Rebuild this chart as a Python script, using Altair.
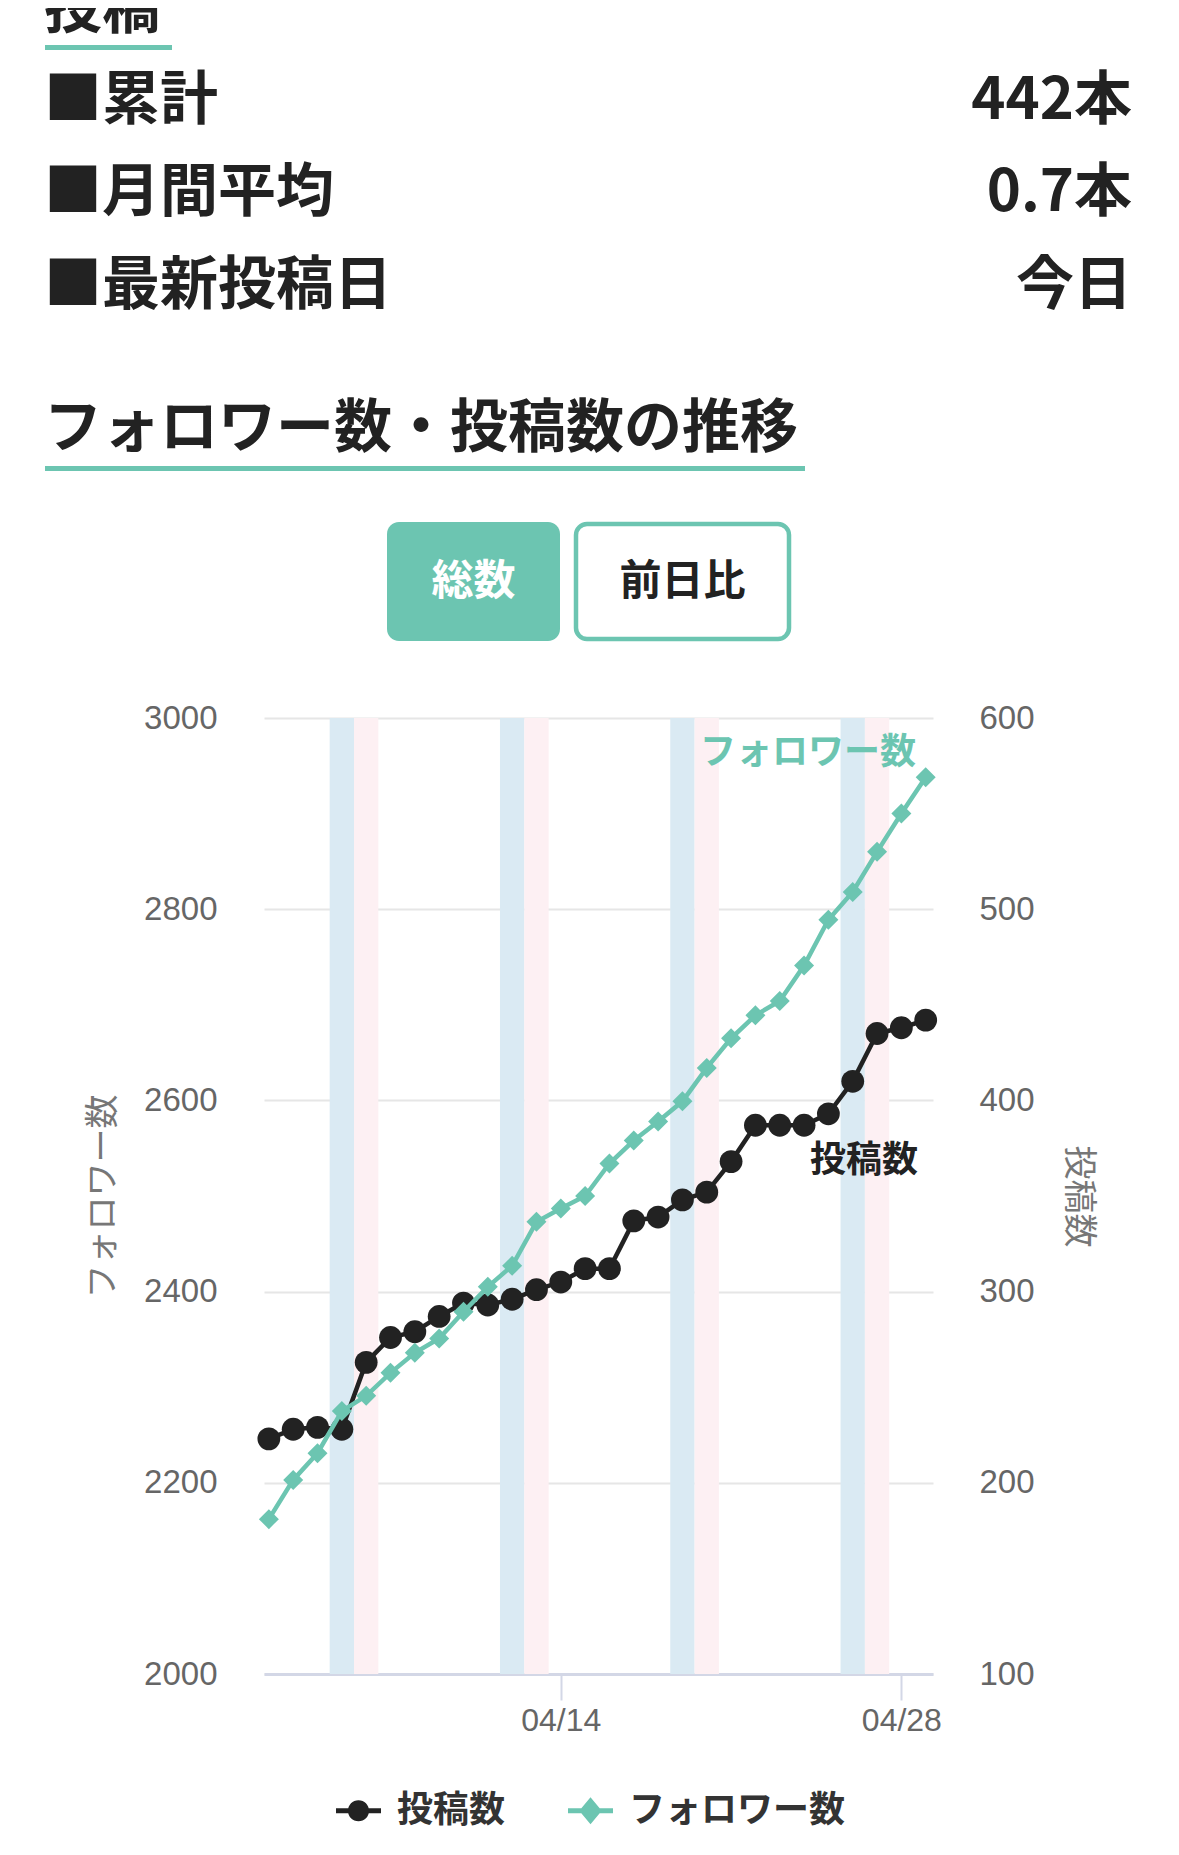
import altair as alt
import pandas as pd

# ---------------- data ----------------
dates = ["2025-04-02", "2025-04-03", "2025-04-04", "2025-04-05", "2025-04-06", "2025-04-07", "2025-04-08",
         "2025-04-09", "2025-04-10", "2025-04-11", "2025-04-12", "2025-04-13", "2025-04-14", "2025-04-15",
         "2025-04-16", "2025-04-17", "2025-04-18", "2025-04-19", "2025-04-20", "2025-04-21", "2025-04-22",
         "2025-04-23", "2025-04-24", "2025-04-25", "2025-04-26", "2025-04-27", "2025-04-28", "2025-04-29"]
posts = [223, 228, 229, 228, 263, 276, 279, 287, 294, 293, 296, 301, 305, 312, 312, 337, 339, 348, 352, 368,
         387, 387, 387, 393, 410, 435, 438, 442]
followers = [2162, 2203, 2231, 2275, 2291, 2315, 2336, 2351, 2379, 2405, 2427, 2473, 2487, 2500, 2534, 2558,
             2578, 2599, 2634, 2665, 2689, 2704, 2741, 2789, 2818, 2860, 2900, 2938]
saturdays = ["2025-04-05", "2025-04-12", "2025-04-19", "2025-04-26"]
sundays = ["2025-04-06", "2025-04-13", "2025-04-20", "2025-04-27"]
series_names = ["投稿数", "フォロワー数"]
follower_ticks = [2000, 2200, 2400, 2600, 2800, 3000]
post_ticks = [100, 200, 300, 400, 500, 600]
x_tick_dates = [(2025, 4, 14), (2025, 4, 28)]

header_title = "投稿"
row_labels = ["■累計", "■月間平均", "■最新投稿日"]
row_values = ["442本", "0.7本", "今日"]
section_title = "フォロワー数・投稿数の推移"
buttons = ["総数", "前日比"]

# ---------------- style / layout ----------------
TEAL = "#6cc5b1"
DARK = "#222222"
CJK = "Noto Sans CJK JP"
W, H = 669, 956
PAD_L, PAD_T = 256, 710
OX, OY = 8 + PAD_L, 8 + PAD_T   # plot origin in page pixels

df = pd.DataFrame({"date": dates, "posts": posts, "followers": followers})


def band_frame(days):
    d = pd.to_datetime(pd.Series(days))
    return pd.DataFrame({
        "start": (d - pd.Timedelta(hours=12)).dt.strftime("%Y-%m-%dT%H:%M:%SZ"),
        "end": (d + pd.Timedelta(hours=12)).dt.strftime("%Y-%m-%dT%H:%M:%SZ"),
    })


xscale = alt.Scale(
    type="utc",
    domain=[alt.DateTime(year=2025, month=4, date=1, hours=19, minutes=12, utc=True),
            alt.DateTime(year=2025, month=4, date=29, hours=7, minutes=12, utc=True)],
)
xaxis = alt.Axis(
    values=[alt.DateTime(year=y, month=m, date=d, utc=True) for (y, m, d) in x_tick_dates],
    format="%m/%d", title=None, grid=False,
    labelFont="Liberation Sans", labelFontSize=32, labelColor="#666666", labelPadding=5,
    domainColor="#d3d7e6", domainWidth=3, tickColor="#d3d7e6", tickSize=26, tickWidth=2,
)

sat = alt.Chart(band_frame(saturdays)).mark_rect(color="#daeaf3").encode(
    x=alt.X("start:T", scale=xscale, axis=xaxis), x2="end:T")
sun = alt.Chart(band_frame(sundays)).mark_rect(color="#fdf0f3").encode(
    x=alt.X("start:T", scale=xscale, axis=xaxis), x2="end:T")

post_axis = alt.Axis(
    orient="right", values=post_ticks, format="d", grid=False, domain=False, ticks=False,
    labelFont="Liberation Sans", labelFontSize=33, labelColor="#666666", labelPadding=46,
    title="投稿数", titleFont=CJK, titleFontSize=34, titleFontWeight="normal", titleColor="#777777",
    titleAngle=90, titleX=144, titleY=H / 2, titleAlign="center", titleBaseline="middle",
)
follower_axis = alt.Axis(
    orient="left", values=follower_ticks, format="d", grid=True, gridColor="#e6e6e6", gridWidth=2,
    domain=False, ticks=False,
    labelFont="Liberation Sans", labelFontSize=33, labelColor="#666666", labelPadding=47,
    title="フォロワー数", titleFont=CJK, titleFontSize=34, titleFontWeight="normal", titleColor="#777777",
    titleAngle=270, titleX=-161, titleY=H / 2, titleAlign="center", titleBaseline="middle",
)

base = alt.Chart(df)
px = alt.X("date:T", scale=xscale, axis=xaxis)

py = alt.Y("posts:Q", scale=alt.Scale(domain=[100, 600], zero=False, nice=False), axis=post_axis)
posts_layer = alt.layer(
    base.mark_line(color=DARK, strokeWidth=4.5).encode(x=px, y=py),
    base.mark_point(filled=True, shape="circle", size=520, color=DARK, opacity=1).encode(x=px, y=py),
)

fy = alt.Y("followers:Q", scale=alt.Scale(domain=[2000, 3000], zero=False, nice=False), axis=follower_axis)
follow_layer = alt.layer(
    base.mark_line(color=TEAL, strokeWidth=4.5).encode(x=px, y=fy),
    base.mark_point(filled=True, shape="diamond", size=400, color=TEAL, opacity=1).encode(x=px, y=fy),
)

# legend (real legend driven by an empty layer with explicit domains)
circle_path = ("M-1,-0.11 L1,-0.11 L1,0.11 L-1,0.11 Z "
               "M-0.47,0 A0.47,0.47 0 1,1 0.47,0 A0.47,0.47 0 1,1 -0.47,0 Z")
diamond_path = ("M-1,-0.11 L1,-0.11 L1,0.11 L-1,0.11 Z "
                "M0,-0.6 L0.5,0 L0,0.6 L-0.5,0 Z")
leg = alt.Legend(
    orient="none", legendX=336 - OX, legendY=1788 - OY, direction="horizontal", title=None,
    labelFont=CJK, labelFontSize=36, labelFontWeight="bold", labelColor="#333333", labelLimit=0,
    symbolSize=2025, symbolStrokeWidth=0, symbolOpacity=1, labelOffset=16, columnPadding=62,
)
legend_layer = alt.Chart(pd.DataFrame({"series": series_names})).transform_filter("false").mark_point(
    filled=True, size=2025, opacity=1).encode(
    color=alt.Color("series:N", scale=alt.Scale(domain=series_names, range=[DARK, TEAL]), legend=leg),
    shape=alt.Shape("series:N", scale=alt.Scale(domain=series_names, range=[circle_path, diamond_path]), legend=leg),
)


def text_layer(txt, x, y, size, color=DARK, align="left", weight="bold"):
    """x, y in page pixels"""
    return alt.Chart(pd.DataFrame({"t": [txt]})).mark_text(
        font=CJK, fontSize=size, fontWeight=weight, color=color, align=align, baseline="middle"
    ).encode(text="t:N", x=alt.value(x - OX), y=alt.value(y - OY))


def box_layer(x, x2, y, y2, fill, stroke=None, sw=0, radius=0):
    """page pixels"""
    kw = dict(fill=fill, cornerRadius=radius, opacity=1)
    if stroke:
        kw.update(stroke=stroke, strokeWidth=sw)
    return alt.Chart(pd.DataFrame({"k": [0]})).mark_rect(**kw).encode(
        x=alt.value(x - OX), x2=alt.value(x2 - OX), y=alt.value(y - OY), y2=alt.value(y2 - OY))


deco = []
# top block
deco.append(text_layer(header_title, 44, 11, 58))
deco.append(box_layer(45, 172, 45, 50, TEAL))
row_y = [101.5, 193.5, 287]
for lab, val, yy in zip(row_labels, row_values, row_y):
    deco.append(text_layer(lab, 44, yy, 58))
    deco.append(text_layer(val, 1132, yy, 58, align="right"))
deco.append(text_layer(section_title, 44, 430, 58))
deco.append(box_layer(45, 805, 466, 471, TEAL))
# buttons
deco.append(box_layer(387, 560, 522, 641, TEAL, radius=12))
deco.append(text_layer(buttons[0], 473.5, 582, 42, color="white", align="center"))
deco.append(box_layer(576, 789, 524, 639, "white", stroke=TEAL, sw=4.5, radius=11))
deco.append(text_layer(buttons[1], 682.5, 582, 42, align="center"))
# inline series labels
deco.append(text_layer(series_names[1], 916, OY + 35, 36, color=TEAL, align="right"))
deco.append(text_layer(series_names[0], 918, OY + 443, 36, color=DARK, align="right"))

chart = alt.layer(sat, sun, posts_layer, follow_layer, legend_layer, *deco).resolve_scale(
    y="independent"
).properties(
    width=W, height=H,
    autosize=alt.AutoSizeParams(type="none"),
    padding={"left": PAD_L, "top": PAD_T, "right": 1160 - PAD_L - W, "bottom": 1835 - PAD_T - H},
    background="white",
).configure_view(strokeWidth=0)

chart.save("out.html", embed_options={"renderer": "svg", "actions": False})
